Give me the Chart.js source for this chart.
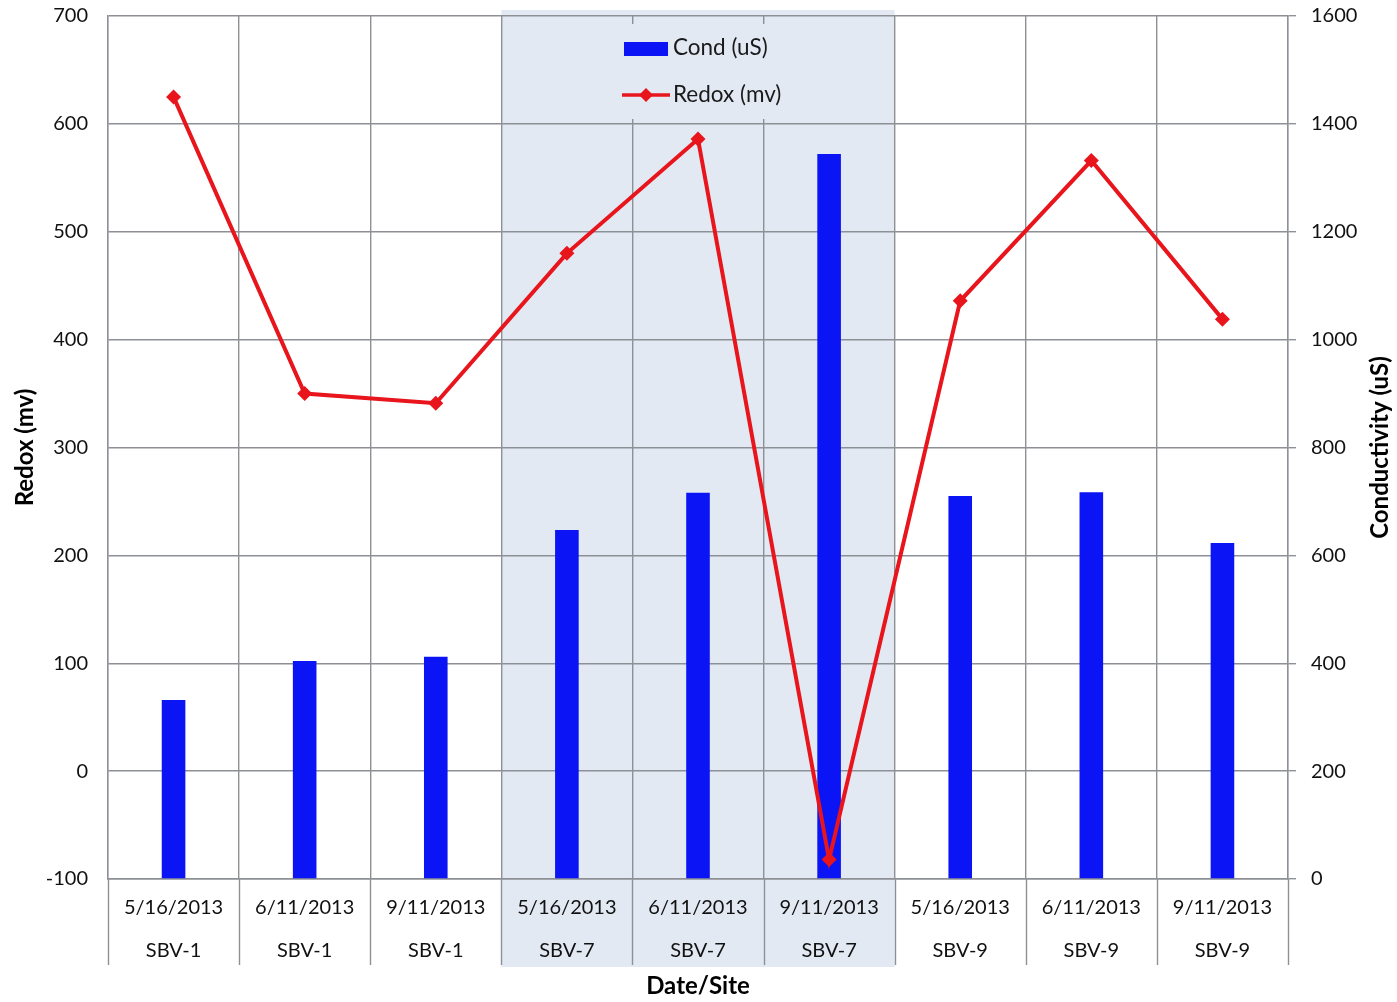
<!DOCTYPE html>
<html>
<head>
<meta charset="utf-8">
<script src="https://cdn.jsdelivr.net/npm/chart.js@4"></script>
<style>
  html, body { margin: 0; padding: 0; background: #fff; }
  #wrap { width: 1397px; height: 1002px; }
</style>
</head>
<body>
<div id="wrap"><canvas id="chart" width="1397" height="1002"></canvas></div>
<script>
// categories: date + site (two-level axis)
const dates = ["5/16/2013", "6/11/2013", "9/11/2013", "5/16/2013", "6/11/2013", "9/11/2013", "5/16/2013", "6/11/2013", "9/11/2013"];
const sites = ["SBV-1", "SBV-1", "SBV-1", "SBV-7", "SBV-7", "SBV-7", "SBV-9", "SBV-9", "SBV-9"];

// series
const condUS = [332, 404, 412, 647, 716, 1344, 710, 717, 623];
const redoxMv = [625, 350, 341, 480, 586, -82, 436, 566, 419];

// axis ranges
const redoxTicks = { min: -100, max: 700, step: 100 };
const condTicks = { min: 0, max: 1600, step: 200 };

const highlightSite = "SBV-7";
const condTitle = "Conductivity (uS)";

const GRID = "#8d9095";
const SHADE = "#e2e9f3";
const FONT = "Lato, 'Open Sans', sans-serif";

// step between categories on the x scale
function catStep(x) {
    return x.getPixelForValue(1) - x.getPixelForValue(0);
}

const shadePlugin = {
    id: "shade",
    beforeDraw(chart) {
        const x = chart.scales.x;
        const area = chart.chartArea;
        const idx = sites.map((s, i) => s === highlightSite ? i : -1).filter(i => i >= 0);
        if (!idx.length) return;
        const half = catStep(x) / 2;
        const x0 = x.getPixelForValue(idx[0]) - half;
        const x1 = x.getPixelForValue(idx[idx.length - 1]) + half;
        const ctx = chart.ctx;
        ctx.save();
        ctx.fillStyle = SHADE;
        ctx.fillRect(x0, area.top - 6, x1 - x0, area.bottom - area.top + 94);
        ctx.restore();
    },
    beforeDatasetsDraw(chart) {
        const x = chart.scales.x;
        const area = chart.chartArea;
        const ctx = chart.ctx;
        const half = catStep(x) / 2;
        ctx.save();
        // separators through the label area
        ctx.strokeStyle = GRID;
        ctx.lineWidth = 1.4;
        for (let i = 0; i <= dates.length; i++) {
            const px = Math.round(x.getPixelForValue(i) - half) + 0.5;
            ctx.beginPath();
            ctx.moveTo(px, area.bottom);
            ctx.lineTo(px, area.bottom + 86);
            ctx.stroke();
        }

        // legend box inside the plot
        const ds = chart.data.datasets;
        const cx = (area.left + area.right) / 2;
        ctx.fillStyle = SHADE;
        ctx.fillRect(cx - 86, area.top + 8, 188, 95);
        ctx.font = "22.5px " + FONT;
        ctx.textBaseline = "middle";
        ctx.textAlign = "left";
        const bar = ds.find(d => d.type === "bar");
        const line = ds.find(d => d.type === "line");
        // bar item
        ctx.fillStyle = bar.backgroundColor;
        ctx.fillRect(cx - 74, area.top + 26, 44, 14);
        ctx.fillStyle = "#1a1a1a";
        ctx.fillText(bar.label, cx - 25, area.top + 32);
        // line item
        const ly = area.top + 79;
        ctx.strokeStyle = line.borderColor;
        ctx.lineWidth = 3.5;
        ctx.beginPath();
        ctx.moveTo(cx - 76, ly);
        ctx.lineTo(cx - 28, ly);
        ctx.stroke();
        ctx.fillStyle = line.borderColor;
        ctx.beginPath();
        ctx.moveTo(cx - 52, ly - 7);
        ctx.lineTo(cx - 45, ly);
        ctx.lineTo(cx - 52, ly + 7);
        ctx.lineTo(cx - 59, ly);
        ctx.closePath();
        ctx.fill();
        ctx.fillStyle = "#1a1a1a";
        ctx.fillText(line.label, cx - 25, ly);
        ctx.restore();
    },
    afterDraw(chart) {
        // right axis title reads bottom-to-top
        const y1 = chart.scales.y1;
        const area = chart.chartArea;
        const ctx = chart.ctx;
        ctx.save();
        ctx.translate(y1.right - 17, (area.top + area.bottom) / 2);
        ctx.rotate(-Math.PI / 2);
        ctx.font = "bold 24px " + FONT;
        ctx.fillStyle = "#000";
        ctx.textAlign = "center";
        ctx.textBaseline = "middle";
        ctx.fillText(condTitle, 0, 0);
        ctx.restore();
    }
};

function fitVertical(width) {
    return s => {
        s.width = width;
        s.paddingTop = 0;
        s.paddingBottom = 0;
    };
}

new Chart(document.getElementById("chart"), {
    data: {
        labels: dates.map((d, i) => [d, sites[i]]),
        datasets: [
            {
                type: "line",
                label: "Redox (mv)",
                data: redoxMv,
                yAxisID: "y",
                borderColor: "#e8151d",
                backgroundColor: "#e8151d",
                borderWidth: 4,
                pointStyle: "rectRot",
                pointRadius: 7.5,
                pointBorderWidth: 0,
                tension: 0,
                order: 0,
            },
            {
                type: "bar",
                label: "Cond (uS)",
                data: condUS,
                yAxisID: "y1",
                backgroundColor: "#0b14f5",
                barPercentage: 0.18,
                categoryPercentage: 1,
                order: 1,
            },
        ],
    },
    options: {
        responsive: false,
        animation: false,
        layout: { padding: { top: 16, left: 0, right: 0, bottom: 0 } },
        plugins: {
            legend: { display: false },
            tooltip: { enabled: false },
        },
        scales: {
            x: {
                offset: true,
                grid: { color: GRID, lineWidth: 1.4, offset: true, drawTicks: false },
                border: { color: GRID, width: 1.4 },
                ticks: {
                    color: "#111",
                    font: { family: FONT, size: 20, lineHeight: 2.15 },
                    padding: 7,
                    maxRotation: 0,
                    autoSkip: false,
                },
                title: {
                    display: true,
                    text: "Date/Site",
                    color: "#000",
                    font: { family: FONT, size: 24, weight: "bold" },
                    padding: { top: 0, bottom: 1 },
                },
                afterFit(s) { s.height = 123; s.paddingLeft = 0; s.paddingRight = 0; },
            },
            y: {
                position: "left",
                min: redoxTicks.min,
                max: redoxTicks.max,
                ticks: {
                    stepSize: redoxTicks.step,
                    color: "#111",
                    font: { family: FONT, size: 20 },
                    padding: 20,
                },
                grid: { color: GRID, lineWidth: 1.4, drawTicks: false },
                border: { color: GRID, width: 1.4 },
                title: {
                    display: true,
                    text: "Redox (mv)",
                    color: "#000",
                    font: { family: FONT, size: 24, weight: "bold" },
                    padding: { top: 11, bottom: 0 },
                },
                afterFit: fitVertical(108),
            },
            y1: {
                position: "right",
                min: condTicks.min,
                max: condTicks.max,
                ticks: {
                    stepSize: condTicks.step,
                    color: "#111",
                    font: { family: FONT, size: 20 },
                    padding: 15,
                    callback: v => String(v),
                },
                grid: { drawOnChartArea: false, color: GRID, lineWidth: 1.4, tickLength: 8 },
                border: { color: GRID, width: 1.4 },
                afterFit: fitVertical(109),
            },
        },
    },
    plugins: [shadePlugin],
});
</script>
</body>
</html>
